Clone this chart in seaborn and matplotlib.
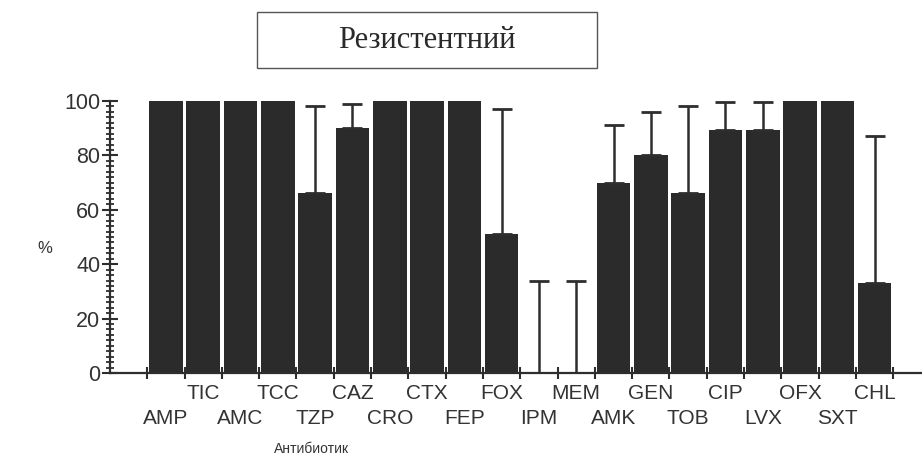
import matplotlib
matplotlib.use("Agg")
import matplotlib.pyplot as plt
from matplotlib.patches import Rectangle
from matplotlib.ticker import FixedLocator, MultipleLocator
import seaborn as sns
import pandas as pd
import numpy as np

# Antibiotic resistance, % of isolates
antibiotics = ["AMP", "TIC", "AMC", "TCC", "TZP", "CAZ", "CRO", "CTX", "FEP", "FOX",
               "IPM", "MEM", "AMK", "GEN", "TOB", "CIP", "LVX", "OFX", "SXT", "CHL"]
resistant = [100, 100, 100, 100, 66, 90, 100, 100, 100, 51,
             0, 0, 70, 80, 66, 89.5, 89.5, 100, 100, 33]
err_upper = [0, 0, 0, 0, 32, 9, 0, 0, 0, 46,
             34, 34, 21, 16, 32, 10, 10, 0, 0, 54]
y_ticks = [0, 20, 40, 60, 80, 100]

title = "Резистентний"
x_label = "Антибиотик"
y_label = "%"

bar_color = "#2b2b2b"
ink = "#2e2e2e"

sns.set_theme(style="white")
plt.rcParams["font.family"] = ["Liberation Sans", "DejaVu Sans"]

df = pd.DataFrame({"antibiotic": antibiotics, "value": resistant, "err": err_upper})

fig = plt.figure(figsize=(9.22, 4.63), dpi=100)
fig.patch.set_facecolor("white")
ax = fig.add_axes([0.1193, 0.1944, 0.8807, 0.5875])

sns.barplot(data=df, x="antibiotic", y="value", color=bar_color, saturation=1,
            width=0.9, errorbar=None, ax=ax, linewidth=0, zorder=2)

# one-sided (upper) error bars
has_err = df["err"] > 0
pos = np.arange(len(df))[has_err.to_numpy()]
ax.errorbar(pos, df.loc[has_err, "value"],
            yerr=[np.zeros(has_err.sum()), df.loc[has_err, "err"]],
            fmt="none", ecolor=ink, elinewidth=1.8, capsize=7, capthick=2,
            zorder=3)

ax.set_xlim(-1.5, 20.27)
ax.set_ylim(0, 100)

for side in ("top", "right"):
    ax.spines[side].set_visible(False)
for side in ("left", "bottom"):
    ax.spines[side].set_color(ink)
    ax.spines[side].set_linewidth(1.6)

# y axis: labelled majors, dense minors crossing the spine
ax.yaxis.set_major_locator(FixedLocator(y_ticks))
ax.yaxis.set_minor_locator(MultipleLocator(2))
ax.tick_params(axis="y", which="major", direction="inout", length=12, width=1.5,
               color=ink, labelsize=15.5, labelcolor="#333333", pad=1, left=True)
ax.tick_params(axis="y", which="minor", direction="inout", length=6, width=1.3,
               color=ink, left=True)

# x axis: boundary ticks between bars, labels in two staggered rows
ax.xaxis.set_minor_locator(FixedLocator(np.arange(-0.5, len(antibiotics), 1.0)))
ax.tick_params(axis="x", which="minor", direction="inout", length=9, width=1.5,
               color=ink, bottom=True)
ax.tick_params(axis="x", which="major", length=0, labelsize=15,
               labelcolor="#333333", bottom=True)
ax.set_xticks(range(len(antibiotics)))
ax.set_xticklabels(antibiotics)
for i, tick in enumerate(ax.xaxis.get_major_ticks()):
    tick.set_pad(8 if i % 2 else 26)

ax.set_xlabel("")
ax.set_ylabel("")
ax.grid(False)

fig.text(45 / 922, 1 - 248 / 463, y_label, fontsize=12, color="#333333",
         ha="center", va="center")
fig.text(312 / 922, 1 - 449 / 463, x_label, fontsize=10, color="#333333",
         ha="center", va="center")

# boxed title
fig.patches.append(Rectangle((257 / 922, 1 - 68 / 463), 340 / 922, 56 / 463,
                             transform=fig.transFigure, fill=False,
                             edgecolor="#555555", linewidth=1.0))
fig.text(427 / 922, 1 - 41 / 463, title, fontsize=22, color="#2a2a2a",
         family=["Liberation Serif", "DejaVu Serif"], ha="center", va="center")

fig.savefig("out.png", dpi=100, facecolor="white")
